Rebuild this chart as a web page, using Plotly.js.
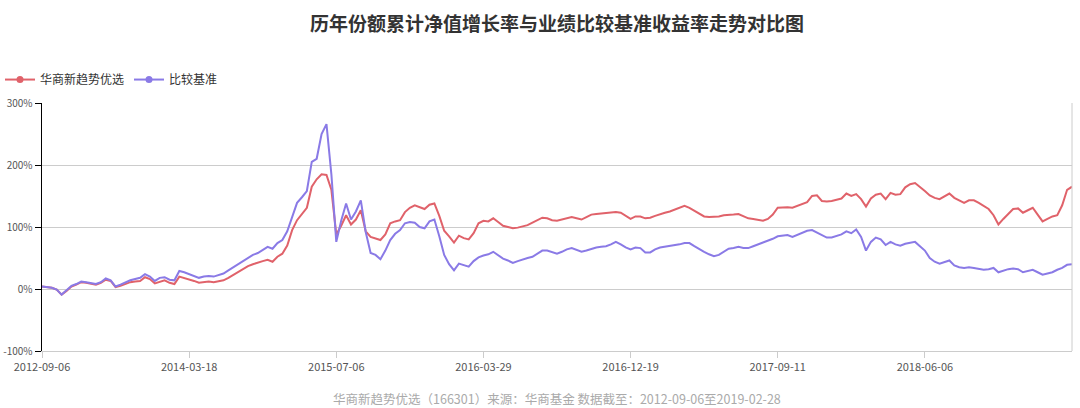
<!DOCTYPE html>
<html>
<head>
<meta charset="utf-8">
<script src="https://cdn.plot.ly/plotly-3.0.1.min.js"></script>
<style>
html,body{margin:0;padding:0;background:#fff;}
#chart{width:1080px;height:408px;}
</style>
</head>
<body>
<div id="chart"></div>
<script>
var titleText = '历年份额累计净值增长率与业绩比较基准收益率走势对比图';
var footerText = '华商新趋势优选（166301）来源：华商基金 数据截至：2012-09-06至2019-02-28';
var seriesNames = ['华商新趋势优选', '比较基准'];
var tickLabels = ['2012-09-06','2014-03-18','2015-07-06','2016-03-29','2016-12-19','2017-09-11','2018-06-06'];
var yTickValues = [-100, 0, 100, 200, 300];
var yTickLabels = ['-100%', '0%', '100%', '200%', '300%'];

// 华商新趋势优选 cumulative NAV growth (%)
var fundValues = [
4,3,2,-1,-9,-3,4,7,11,10,
8,7,10,15,13,3,5,8,11,12,
13,19,16,9,12,14,10,8,20,18,
15,13,10,11,12,11,12,14,18,23,
28,33,37,40,43,45,47,44,52,57,
70,95,111,122,131,165,177,185,184,160,
88,102,119,104,112,127,93,84,81,79,
88,106,109,111,124,131,135,132,129,136,
138,118,94,85,75,86,82,80,90,106,
110,109,114,108,102,100,98,99,101,103,
107,111,115,114,111,110,112,115,116,114,
112,116,120,121,122,123,124,124,123,118,
113,117,117,114,115,118,121,123,125,128,
131,134,131,126,121,117,116,116,117,119,
119,120,121,117,114,113,111,110,113,120,
131,132,132,131,134,138,140,150,151,142,
141,142,144,146,154,150,153,145,133,146,
152,154,145,155,152,153,164,169,171,165,
158,151,147,145,150,154,147,143,139,143,
143,139,134,129,119,104,113,121,129,130,
123,127,131,120,109,113,117,119,135,160,
165
];

// 比较基准 benchmark return (%)
var benchValues = [
4,3,2,-1,-9,-2,5,8,12,11,
9,8,11,17,14,4,7,11,14,16,
18,24,20,13,18,19,15,14,29,27,
24,21,18,20,21,20,23,25,30,35,
40,45,51,55,58,63,68,65,74,79,
93,116,139,148,158,205,210,250,266,185,
76,110,138,112,125,143,92,58,55,48,
62,79,89,95,106,108,107,100,98,109,
112,85,55,40,30,41,38,36,45,51,
54,56,60,54,49,46,42,45,48,50,
52,57,62,62,60,57,60,64,66,63,
60,62,65,67,68,69,72,76,72,67,
64,67,66,59,59,64,67,68,69,70,
72,74,74,69,64,60,56,53,55,60,
65,66,68,66,66,69,72,75,77,81,
85,86,87,84,87,91,94,95,91,86,
83,83,85,88,93,90,96,84,62,76,
83,80,71,76,72,70,73,75,76,69,
62,50,44,41,44,46,38,35,34,35,
34,32,31,32,34,27,30,32,33,32,
27,29,31,27,23,25,27,31,34,39,
40
];

var idx = fundValues.map(function(_, i){ return i; });
var lastIdx = fundValues.length - 1;
var step = lastIdx / 7;
var tickVals = tickLabels.map(function(_, k){ return k * step; });

var red = '#e0626a';
var purple = '#8a7ae6';

var traces = [
  {x: idx, y: fundValues, type: 'scatter', mode: 'lines', name: seriesNames[0],
   line: {color: red, width: 2}, showlegend: false, hoverinfo: 'skip'},
  {x: idx, y: benchValues, type: 'scatter', mode: 'lines', name: seriesNames[1],
   line: {color: purple, width: 2}, showlegend: false, hoverinfo: 'skip'},
  {x: [null], y: [null], type: 'scatter', mode: 'lines+markers', name: seriesNames[0],
   line: {color: red, width: 2}, marker: {color: red, size: 7}},
  {x: [null], y: [null], type: 'scatter', mode: 'lines+markers', name: seriesNames[1],
   line: {color: purple, width: 2}, marker: {color: purple, size: 7}}
];

var plotTop = 103, plotBottom = 351, H = 408;
var footerY = -(398 - plotBottom) / (plotBottom - plotTop);

var layout = {
  width: 1080, height: H,
  margin: {l: 42, r: 8, t: plotTop, b: H - plotBottom},
  paper_bgcolor: '#ffffff', plot_bgcolor: '#ffffff',
  font: {family: '"Noto Sans CJK SC", "Noto Sans", sans-serif', color: '#555'},
  title: {text: '<b>' + titleText + '</b>', x: 0.5, xanchor: 'center', y: 0.94, yanchor: 'middle',
          xref: 'paper',
          font: {size: 19, color: '#333', family: '"Noto Sans CJK SC", sans-serif'}},
  showlegend: true,
  legend: {orientation: 'h', xref: 'container', yref: 'container', x: -0.004, xanchor: 'left',
           y: 0.805, yanchor: 'middle', itemwidth: 30,
           font: {size: 12, color: '#333'}, bgcolor: 'rgba(0,0,0,0)'},
  xaxis: {
    range: [0, lastIdx], tickmode: 'array', tickvals: tickVals, ticktext: tickLabels,
    showgrid: false, zeroline: false, showline: true, linecolor: '#cccccc', linewidth: 1,
    ticks: 'outside', ticklen: 6, tickcolor: '#cccccc',
    tickfont: {size: 11, color: '#555'}, fixedrange: true
  },
  yaxis: {
    range: [-100, 300], tickmode: 'array', tickvals: yTickValues, ticktext: yTickLabels,
    showgrid: true, gridcolor: '#cccccc', gridwidth: 1,
    zeroline: false, showline: true, linecolor: '#000000', linewidth: 1.5,
    ticks: 'outside', ticklen: 6, tickcolor: '#000000',
    tickfont: {size: 10, color: '#555'}, fixedrange: true
  },
  shapes: [
    {type: 'line', xref: 'paper', yref: 'paper', x0: 1, x1: 1, y0: 0, y1: 1,
     line: {color: '#cccccc', width: 1}}
  ],
  annotations: [
    {text: footerText, xref: 'paper', yref: 'paper', x: 0.5, xanchor: 'center',
     y: footerY, yanchor: 'middle', showarrow: false,
     font: {size: 12.5, color: '#aaaaaa'}}
  ]
};

Plotly.newPlot('chart', traces, layout, {displayModeBar: false, staticPlot: true});
</script>
</body>
</html>
